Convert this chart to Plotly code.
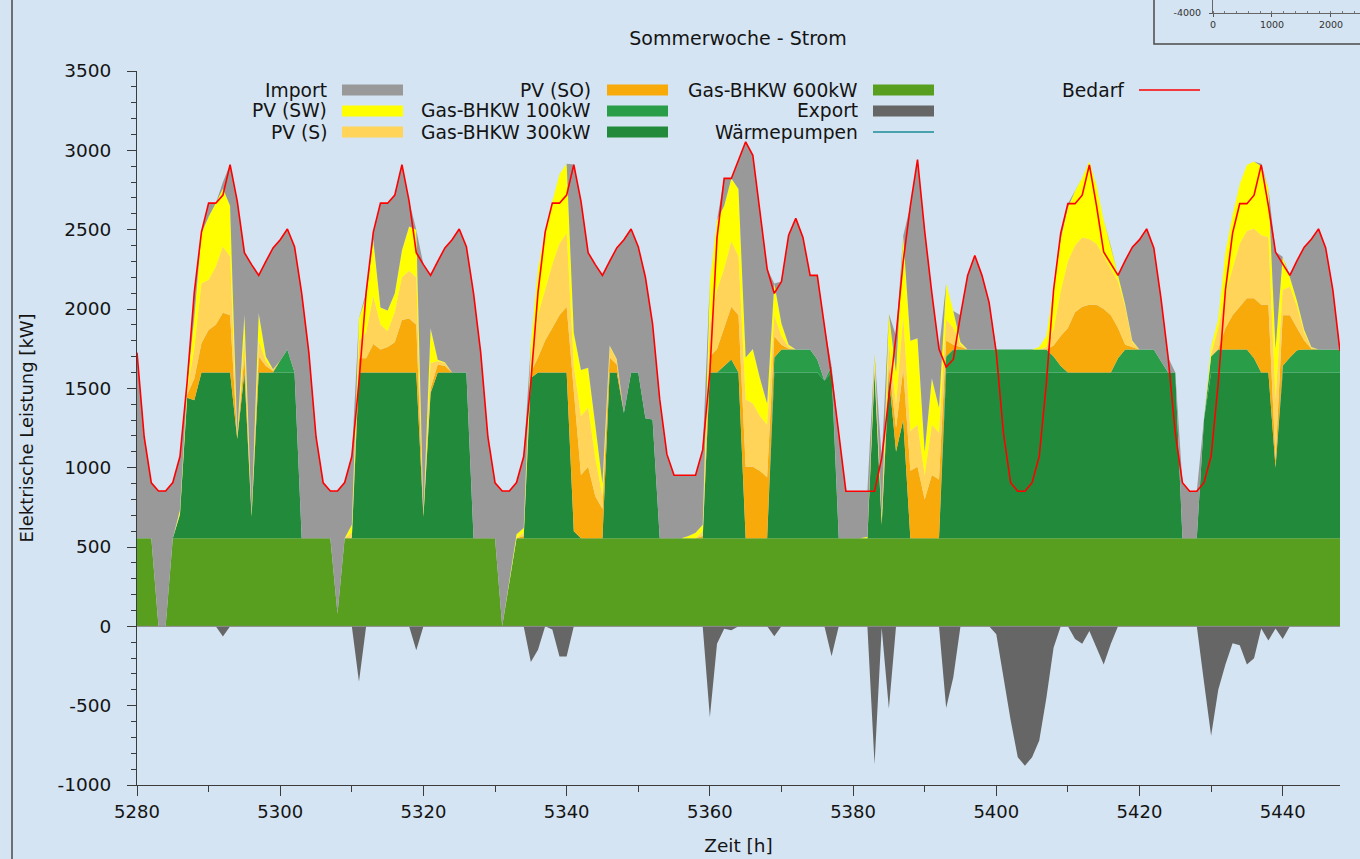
import plotly.graph_objects as go

W, H = 1360, 859

# Hourly time axis of the summer week
hours = list(range(5280, 5449))

# Demand (kW)
bedarf = [
    1725, 1195, 904, 853, 853, 906, 1070, 1540, 2105, 2485, 2667, 2667, 2718, 2910, 2680, 2355, 2280, 2212, 2300, 2385, 2437, 2504, 2393, 2099,
    1725, 1195, 904, 853, 853, 906, 1070, 1540, 2105, 2485, 2667, 2667, 2718, 2910, 2680, 2355, 2280, 2212, 2300, 2385, 2437, 2504, 2393, 2099,
    1725, 1195, 904, 853, 853, 906, 1070, 1540, 2105, 2485, 2667, 2667, 2718, 2910, 2680, 2355, 2280, 2212, 2300, 2385, 2437, 2504, 2393, 2200,
    1907, 1430, 1085, 952, 952, 952, 952, 1112, 1600, 2450, 2823, 2823, 2940, 3054, 2969, 2597, 2253, 2098, 2173, 2465, 2571, 2451, 2212, 2212,
    1894, 1576, 1217, 851, 851, 851, 851, 851, 1060, 1450, 1830, 2300, 2650, 2942, 2491, 2100, 1748, 1634, 1682, 1960, 2212, 2337, 2212, 2040,
    1725, 1217, 905, 851, 851, 905, 1072, 1536, 2120, 2478, 2664, 2664, 2717, 2908, 2650, 2359, 2284, 2212, 2305, 2390, 2437, 2505, 2385, 2067,
    1695, 1217, 905, 851, 851, 905, 1072, 1536, 2120, 2478, 2664, 2664, 2717, 2908, 2650, 2359, 2284, 2212, 2305, 2390, 2440, 2505, 2385, 2120, 1735,
]

# Generation per source (kW), stacked from the bottom up
gas_600 = [
    555, 555, 555, 0, 0, 555, 555, 555, 555, 555, 555, 555, 555, 555, 555, 555, 555, 555, 555, 555, 555, 555, 555, 555,
    555, 555, 555, 555, 80, 555, 555, 555, 555, 555, 555, 555, 555, 555, 555, 555, 555, 555, 555, 555, 555, 555, 555, 555,
    555, 555, 555, 0, 280, 555, 555, 555, 555, 555, 555, 555, 555, 555, 555, 555, 555, 555, 555, 555, 555, 555, 555, 555,
    555, 555, 555, 555, 555, 555, 555, 555, 555, 555, 555, 555, 555, 555, 555, 555, 555, 555, 555, 555, 555, 555, 555, 555,
    555, 555, 555, 555, 555, 555, 555, 555, 555, 555, 555, 555, 555, 555, 555, 555, 555, 555, 555, 555, 555, 555, 555, 555,
    555, 555, 555, 555, 555, 555, 555, 555, 555, 555, 555, 555, 555, 555, 555, 555, 555, 555, 555, 555, 555, 555, 555, 555,
    555, 555, 555, 555, 555, 555, 555, 555, 555, 555, 555, 555, 555, 555, 555, 555, 555, 555, 555, 555, 555, 555, 555, 555, 555,
]

gas_300 = [
    0, 0, 0, 0, 0, 0, 150, 885, 870, 1045, 1045, 1045, 1045, 1045, 625, 1045, 135, 1045, 1045, 1045, 1045, 1045, 1045, 0,
    0, 0, 0, 0, 0, 0, 0, 1045, 1045, 1045, 1045, 1045, 1045, 1045, 1045, 1045, 135, 915, 1045, 1045, 1045, 1045, 1045, 0,
    0, 0, 0, 0, 0, 0, 0, 1010, 1045, 1045, 1045, 1045, 1045, 45, 0, 0, 0, 0, 1045, 1045, 790, 1045, 1045, 756,
    748, 0, 0, 0, 0, 0, 0, 0, 1045, 1045, 1045, 1045, 1045, 0, 0, 0, 0, 1045, 1045, 1045, 1045, 1045, 1045, 1045,
    995, 1045, 0, 0, 0, 0, 0, 1045, 85, 1025, 545, 745, 0, 0, 0, 0, 0, 1045, 1045, 1045, 1045, 1045, 1045, 1045,
    1045, 1045, 1045, 1045, 1045, 1045, 1045, 1045, 1045, 1045, 1045, 1045, 1045, 1045, 1045, 1045, 1045, 1045, 1045, 1045, 1045, 1045, 1045, 1045,
    1045, 1045, 0, 0, 0, 745, 1045, 1045, 1045, 1045, 1045, 1045, 1045, 1045, 1045, 445, 1045, 1045, 1045, 1045, 1045, 1045, 1045, 1045, 1045,
]

gas_100 = [
    0, 0, 0, 0, 0, 0, 0, 0, 0, 0, 0, 0, 0, 0, 0, 0, 0, 0, 0, 0, 75, 145, 0, 0,
    0, 0, 0, 0, 0, 0, 0, 0, 0, 0, 0, 0, 0, 0, 0, 0, 0, 0, 0, 0, 0, 0, 0, 0,
    0, 0, 0, 0, 0, 0, 0, 0, 0, 0, 0, 0, 0, 0, 0, 0, 0, 0, 0, 0, 0, 0, 0, 0,
    0, 0, 0, 0, 0, 0, 0, 0, 0, 0, 40, 82, 0, 0, 0, 0, 0, 95, 145, 145, 145, 145, 145, 82,
    0, 40, 0, 0, 0, 0, 0, 0, 0, 0, 0, 0, 0, 0, 0, 0, 0, 100, 145, 145, 145, 145, 145, 145,
    145, 145, 145, 145, 145, 145, 145, 145, 100, 40, 0, 0, 0, 0, 0, 0, 0, 90, 145, 145, 145, 145, 145, 70,
    0, 0, 0, 0, 0, 0, 100, 145, 145, 145, 145, 145, 90, 0, 0, 0, 42, 95, 140, 145, 145, 145, 145, 145, 145,
]

pv_so = [
    0, 0, 0, 0, 0, 0, 0, 20, 135, 184, 268, 300, 377, 360, 10, 100, 10, 100, 40, 10, 0, 0, 0, 0,
    0, 0, 0, 0, 0, 0, 5, 90, 90, 180, 145, 160, 190, 330, 340, 300, 10, 30, 50, 40, 0, 0, 0, 0,
    0, 0, 0, 0, 0, 0, 15, 35, 95, 202, 281, 361, 414, 910, 398, 451, 265, 185, 95, 50, 0, 0, 0, 0,
    0, 0, 0, 0, 0, 0, 0, 15, 100, 148, 241, 332, 361, 451, 451, 424, 384, 133, 30, 5, 0, 0, 0, 0,
    0, 0, 0, 0, 0, 0, 0, 10, 20, 70, 150, 320, 425, 451, 245, 398, 371, 101, 30, 15, 0, 0, 0, 0,
    0, 0, 0, 0, 0, 0, 0, 0, 70, 190, 280, 380, 414, 427, 427, 400, 360, 190, 30, 15, 0, 0, 0, 0,
    0, 0, 0, 0, 0, 0, 0, 5, 135, 216, 269, 322, 377, 427, 427, 50, 319, 266, 141, 56, 5, 0, 0, 0, 0,
]

pv_s = [
    0, 0, 0, 0, 0, 0, 10, 20, 190, 378, 315, 367, 416, 370, 10, 120, 5, 100, 30, 5, 0, 0, 0, 0,
    0, 0, 0, 0, 0, 0, 30, 110, 160, 300, 155, 100, 190, 270, 300, 300, 5, 160, 20, 20, 0, 0, 0, 0,
    0, 0, 0, 0, 0, 0, 20, 80, 266, 318, 398, 451, 464, 130, 371, 371, 239, 80, 67, 30, 0, 0, 0, 0,
    0, 0, 0, 0, 0, 0, 0, 30, 200, 372, 372, 411, 371, 424, 398, 345, 332, 133, 53, 12, 0, 0, 0, 0,
    0, 0, 0, 0, 0, 0, 0, 40, 20, 130, 150, 330, 250, 265, 150, 318, 292, 133, 106, 15, 0, 0, 0, 0,
    0, 0, 0, 0, 0, 0, 0, 15, 100, 280, 420, 420, 437, 413, 385, 332, 293, 293, 239, 30, 0, 0, 0, 0,
    0, 0, 0, 0, 0, 0, 10, 130, 213, 292, 398, 425, 438, 438, 425, 380, 159, 179, 133, 49, 5, 0, 0, 0, 0,
]

pv_sw = [
    0, 0, 0, 0, 0, 0, 20, 40, 200, 315, 399, 400, 367, 320, 10, 143, 10, 173, 30, 5, 0, 0, 0, 0,
    0, 0, 0, 0, 0, 0, 50, 140, 230, 355, 110, 130, 120, 170, 280, 300, 10, 218, 10, 5, 0, 0, 0, 0,
    0, 0, 0, 0, 0, 25, 30, 90, 292, 371, 398, 438, 438, 210, 292, 252, 212, 80, 8, 5, 0, 0, 0, 0,
    0, 0, 0, 0, 0, 15, 35, 40, 270, 440, 397, 398, 425, 265, 344, 239, 133, 199, 80, 13, 0, 0, 0, 0,
    0, 0, 0, 0, 0, 0, 10, 70, 20, 190, 200, 510, 570, 544, 150, 292, 159, 226, 106, 15, 0, 0, 0, 0,
    0, 0, 0, 0, 0, 0, 15, 70, 260, 330, 340, 344, 376, 490, 368, 228, 141, 39, 16, 10, 0, 0, 0, 0,
    0, 0, 0, 0, 0, 0, 52, 56, 267, 339, 375, 415, 424, 435, 308, 320, 210, 60, 36, 20, 5, 0, 0, 0, 0,
]

netz_import = [
    1170, 640, 349, 853, 853, 351, 335, 20, 155, 8, 85, 0, 40, 260, 1470, 392, 1565, 239, 600, 765, 762, 759, 793, 1544,
    1170, 640, 349, 298, 773, 351, 430, 0, 25, 50, 657, 677, 618, 540, 160, 0, 1565, 334, 620, 720, 837, 904, 793, 1544,
    1170, 640, 349, 853, 573, 326, 450, 0, 0, 0, 0, 0, 0, 1060, 1064, 726, 1009, 1312, 530, 700, 1092, 904, 793, 889,
    604, 875, 530, 397, 397, 382, 362, 472, 0, 0, 173, 0, 183, 1359, 1221, 1034, 849, 0, 265, 690, 826, 706, 467, 530,
    344, 0, 662, 296, 296, 296, 286, 0, 360, 0, 230, 0, 850, 1127, 1391, 537, 371, 0, 0, 170, 467, 592, 467, 295,
    0, 0, 0, 0, 0, 0, 0, 0, 0, 38, 24, 0, 0, 0, 0, 0, 0, 0, 275, 590, 692, 760, 640, 397,
    95, 0, 350, 296, 296, 0, 0, 0, 0, 0, 0, 0, 0, 15, 0, 609, 0, 12, 255, 520, 680, 760, 640, 375, 0,
]

netz_export = [
    0, 0, 0, 0, 0, 0, 0, 0, 0, 0, 0, 0, -64, 0, 0, 0, 0, 0, 0, 0, 0, 0, 0, 0,
    0, 0, 0, 0, 0, 0, 0, -350, 0, 0, 0, 0, 0, 0, 0, -150, 0, 0, 0, 0, 0, 0, 0, 0,
    0, 0, 0, 0, 0, 0, 0, -225, -148, 0, -20, -190, -190, 0, 0, 0, 0, 0, 0, 0, 0, 0, 0, 0,
    0, 0, 0, 0, 0, 0, 0, 0, -573, -110, -15, -25, 0, 0, 0, 0, 0, -62, 0, 0, 0, 0, 0, 0,
    0, -188, 0, 0, 0, 0, 0, -869, -10, -520, 0, 0, 0, 0, 0, 0, 0, -515, -321, 0, 0, 0, 0, 0,
    -50, -320, -590, -825, -878, -825, -720, -450, -135, 0, 0, -80, -110, -30, -130, -240, -110, 0, 0, 0, 0, 0, 0, 0,
    0, 0, 0, 0, 0, -350, -690, -400, -240, -107, -120, -240, -201, -13, -90, -13, -80, 0, 0, 0, 0, 0, 0, 0, 0,
]

# Axis ticks
y_ticks = [-1000, -500, 0, 500, 1000, 1500, 2000, 2500, 3000, 3500]
y_ticklabels = ["-1000", "-500", "0", "500", "1000", "1500", "2000", "2500", "3000", "3500"]

BG = "#d4e4f2"
FONT = "DejaVu Sans"
TXT = "#141414"
AXIS = "#3c3c3c"

C_IMPORT = "#999999"
C_SW = "#ffff00"
C_S = "#ffd458"
C_SO = "#f8aa0a"
C_G100 = "#2a9d48"
C_G300 = "#228b3b"
C_G600 = "#589e1f"
C_EXPORT = "#666666"
C_WP = "#1b8c96"
C_BEDARF = "#ff0000"


def fx(px):
    return px / W


def fy(py):
    return 1 - py / H


fig = go.Figure()

stack = [
    ("Gas-BHKW 600kW", gas_600, C_G600),
    ("Gas-BHKW 300kW", gas_300, C_G300),
    ("Gas-BHKW 100kW", gas_100, C_G100),
    ("PV (SO)", pv_so, C_SO),
    ("PV (S)", pv_s, C_S),
    ("PV (SW)", pv_sw, C_SW),
    ("Import", netz_import, C_IMPORT),
]
for name, vals, color in stack:
    fig.add_trace(go.Scatter(
        x=hours, y=vals, name=name, mode="lines", stackgroup="erzeugung",
        line=dict(width=0, color=color), fillcolor=color, showlegend=False,
    ))

fig.add_trace(go.Scatter(
    x=hours, y=netz_export, name="Export", mode="lines", fill="tozeroy",
    line=dict(width=0, color=C_EXPORT), fillcolor=C_EXPORT, showlegend=False,
))

fig.add_trace(go.Scatter(
    x=hours, y=bedarf, name="Bedarf", mode="lines",
    line=dict(color=C_BEDARF, width=1.6), showlegend=False,
))

# neighbouring panel peeking in at the top right corner
fig.add_trace(go.Scatter(x=[], y=[], xaxis="x2", yaxis="y2", showlegend=False))

fig.update_layout(
    width=W, height=H,
    margin=dict(l=0, r=0, t=0, b=0),
    paper_bgcolor=BG, plot_bgcolor=BG,
    font=dict(family=FONT, size=18, color=TXT),
    showlegend=False,
    title=dict(text="Sommerwoche - Strom", x=fx(738), y=fy(38), xanchor="center", yanchor="middle",
               font=dict(family=FONT, size=19, color=TXT)),
    xaxis=dict(
        domain=[fx(137), fx(1340)], range=[5280, 5448], anchor="y",
        tick0=5280, dtick=20, ticks="outside", ticklen=10, tickcolor=AXIS,
        minor=dict(dtick=10, ticks="outside", ticklen=6, tickcolor=AXIS, showgrid=False),
        showline=True, linecolor=AXIS, linewidth=1, showgrid=False, zeroline=False,
        tickfont=dict(size=18, color=TXT), automargin=False,
        title=dict(text="Zeit [h]", standoff=18, font=dict(size=18.5, color=TXT)),
    ),
    yaxis=dict(
        domain=[fy(785), fy(71)], range=[-1000, 3500], anchor="x",
        tickvals=y_ticks, ticktext=y_ticklabels, ticks="outside", ticklen=9, tickcolor=AXIS,
        minor=dict(dtick=100, ticks="outside", ticklen=5, tickcolor=AXIS, showgrid=False),
        showline=True, linecolor=AXIS, linewidth=1, showgrid=False, zeroline=False,
        tickfont=dict(size=18.5, color=TXT), ticklabelstandoff=12, automargin=False,
        title=dict(text="Elektrische Leistung [kW]", standoff=19, font=dict(size=18, color=TXT)),
    ),
    xaxis2=dict(
        domain=[fx(1213), 1.0], range=[0, 2492], anchor="y2",
        tickvals=[0, 1000, 2000], ticks="outside", ticklen=3, tickcolor="#555",
        minor=dict(dtick=200, ticks="inside", ticklen=2, tickcolor="#777"),
        showline=True, linecolor="#666", linewidth=1, showgrid=False, zeroline=False,
        tickfont=dict(size=9.5, color="#333"), automargin=False,
    ),
    yaxis2=dict(
        domain=[fy(13), 1.0], range=[-4000, -3000], anchor="x2",
        tickvals=[-4000], ticktext=["-4000"], ticks="outside", ticklen=3, tickcolor="#555",
        showline=True, linecolor="#666", linewidth=1, showgrid=False, zeroline=False,
        tickfont=dict(size=9.5, color="#333"), ticklabelstandoff=6, automargin=False,
    ),
)

shapes = []
annotations = []

# zero line over the stacked areas
shapes.append(dict(type="line", xref="x", yref="y", x0=5280, x1=5448, y0=0, y1=0,
                   line=dict(color="#8a8a8a", width=1), layer="above"))

# window frame at the left edge and the border of the neighbouring panel
shapes.append(dict(type="line", xref="paper", yref="paper", x0=fx(12), x1=fx(12), y0=0, y1=1,
                   line=dict(color="#4a4a4a", width=1.5)))
shapes.append(dict(type="rect", xref="paper", yref="paper", x0=fx(1154), x1=fx(1380), y0=fy(44), y1=fy(-20),
                   line=dict(color="#4a4a4a", width=1.5), fillcolor="rgba(0,0,0,0)", layer="below"))

# legend: label right-aligned in front of its key, four columns of three rows
legend_cols = [(329, 342, 403), (593, 607, 668), (860, 873, 934), (1126, 1139, 1200)]
legend_rows = [90, 111, 132]
legend_items = [
    ("Import", C_IMPORT, "box", 0, 0),
    ("PV (SW)", C_SW, "box", 0, 1),
    ("PV (S)", C_S, "box", 0, 2),
    ("PV (SO)", C_SO, "box", 1, 0),
    ("Gas-BHKW 100kW", C_G100, "box", 1, 1),
    ("Gas-BHKW 300kW", C_G300, "box", 1, 2),
    ("Gas-BHKW 600kW", C_G600, "box", 2, 0),
    ("Export", C_EXPORT, "box", 2, 1),
    ("Wärmepumpen", C_WP, "line", 2, 2),
    ("Bedarf", C_BEDARF, "line", 3, 0),
]
for label, color, kind, col, row in legend_items:
    tx, k0, k1 = legend_cols[col]
    yc = legend_rows[row]
    annotations.append(dict(text=label, xref="paper", yref="paper", x=fx(tx), y=fy(yc),
                            xanchor="right", yanchor="middle", showarrow=False,
                            font=dict(family=FONT, size=18.7, color=TXT)))
    if kind == "box":
        shapes.append(dict(type="rect", xref="paper", yref="paper", x0=fx(k0), x1=fx(k1),
                           y0=fy(yc + 5.5), y1=fy(yc - 5.5), line=dict(width=0), fillcolor=color))
    else:
        shapes.append(dict(type="line", xref="paper", yref="paper", x0=fx(k0), x1=fx(k1),
                           y0=fy(yc), y1=fy(yc), line=dict(color=color, width=1.5)))

fig.update_layout(shapes=shapes, annotations=annotations)

fig.write_html("out.html")
